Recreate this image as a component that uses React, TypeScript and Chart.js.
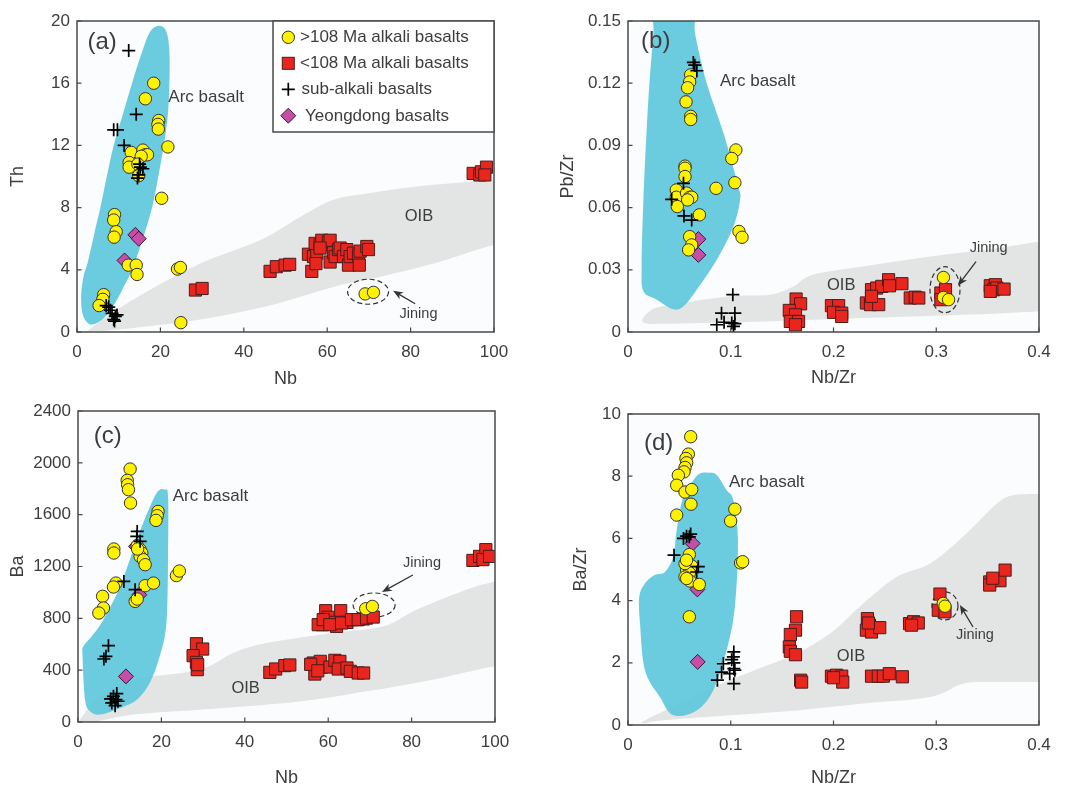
import React, { useEffect, useRef } from 'react';
import { Chart, registerables } from 'chart.js';

Chart.register(...registerables);

type P = [number, number];

// ---------------- DATA ----------------
const SERIES_LABELS = ['>108 Ma alkali basalts', '<108 Ma alkali basalts', 'sub-alkali basalts', 'Yeongdong basalts'];

// (a) Nb vs Th
const A_X_TICKS = [0, 20, 40, 60, 80, 100];
const A_Y_TICKS = [0, 4, 8, 12, 16, 20];
const A_YELLOW: P[] = [[18.4, 16.0], [16.4, 15.0], [19.6, 13.6], [19.4, 13.35], [19.5, 13.05], [21.8, 11.9], [13.0, 11.55], [15.8, 11.7], [16.4, 11.4], [16.9, 11.4], [15.4, 11.3], [12.5, 10.9], [12.5, 10.6], [14.6, 10.8], [14.8, 10.05], [20.3, 8.6], [9.0, 7.55], [8.8, 7.2], [9.4, 6.45], [8.9, 6.1], [12.3, 4.3], [14.2, 4.3], [14.4, 3.7], [24.1, 4.05], [24.8, 4.15], [6.4, 2.4], [6.2, 2.1], [5.3, 1.7], [24.9, 0.6], [69.1, 2.45], [71.1, 2.55]];
const A_RED: P[] = [[28.4, 2.7], [30.0, 2.8], [46.3, 3.9], [47.8, 4.2], [49.9, 4.3], [51.0, 4.35], [56.3, 3.9], [55.5, 5.0], [56.7, 4.85], [57.5, 5.07], [57.3, 4.4], [57.1, 5.7], [58.3, 5.6], [58.7, 5.9], [60.3, 5.8], [60.7, 5.9], [58.3, 5.4], [60.7, 4.5], [61.5, 5.1], [61.9, 4.85], [62.7, 5.3], [63.1, 5.4], [63.9, 4.85], [64.7, 5.3], [65.1, 4.3], [65.5, 4.85], [66.3, 5.07], [67.5, 4.95], [67.7, 4.3], [67.9, 5.2], [69.5, 5.5], [69.9, 5.3], [95.0, 10.2], [96.6, 10.1], [97.0, 10.3], [98.2, 10.6], [97.8, 10.1]];
const A_CROSS: P[] = [[12.4, 18.1], [8.8, 13.0], [9.7, 13.0], [14.2, 14.0], [11.3, 12.0], [15.2, 10.6], [15.8, 10.5], [14.8, 10.1], [14.5, 9.9], [15.0, 10.8], [7.6, 1.6], [8.4, 1.2], [9.2, 1.0], [8.8, 0.8], [9.6, 1.1], [7.0, 1.7], [8.0, 1.4], [9.0, 0.7]];
const A_DIAMOND: P[] = [[14.0, 6.25], [14.8, 6.0], [11.4, 4.6]];
const A_ARC: P[] = [[19.6, 19.7], [21.3, 19.4], [22.1, 18.3], [22.2, 16.5], [21.8, 14], [20.8, 12], [19.5, 10], [18, 8], [15.8, 6], [13.2, 4], [11, 2.8], [9, 1.8], [6.5, 0.9], [4, 0.5], [2.5, 0.6], [1.3, 1.2], [1.0, 2.4], [1.6, 3.6], [2.6, 4.5], [4.3, 6.5], [5.6, 8], [7.3, 10.2], [8.8, 12], [11, 14], [13.2, 16], [15.6, 18], [17.5, 19.3]];
const A_OIB: P[] = [[3.2, 0.2], [13.6, 2.1], [29.6, 4.4], [43.9, 5.9], [53.5, 7.4], [61.5, 8.5], [69.5, 8.9], [81.5, 9.35], [100, 9.8], [104, 9.9], [104, 5.5], [100, 5.6], [85.5, 4.4], [73.5, 3.6], [61.5, 2.9], [45.5, 1.65], [29.6, 0.8], [13.6, 0.26], [4, 0.05]];

// (b) Nb/Zr vs Pb/Zr
const B_X_TICKS = [0, 0.1, 0.2, 0.3, 0.4];
const B_Y_TICKS = [0, 0.03, 0.06, 0.09, 0.12, 0.15];
const B_YELLOW: P[] = [[0.061, 0.124], [0.060, 0.1206], [0.058, 0.1178], [0.0565, 0.111], [0.061, 0.104], [0.061, 0.1025], [0.105, 0.0878], [0.101, 0.0837], [0.104, 0.072], [0.0857, 0.0693], [0.0555, 0.080], [0.0555, 0.079], [0.0555, 0.075], [0.047, 0.0685], [0.047, 0.065], [0.057, 0.067], [0.060, 0.065], [0.062, 0.065], [0.058, 0.0637], [0.048, 0.0605], [0.0695, 0.0565], [0.108, 0.0485], [0.111, 0.0457], [0.060, 0.046], [0.062, 0.042], [0.059, 0.0396], [0.307, 0.0263], [0.307, 0.0167], [0.312, 0.0156]];
const B_RED: P[] = [[0.1636, 0.0159], [0.168, 0.0136], [0.157, 0.0104], [0.163, 0.0083], [0.158, 0.0051], [0.166, 0.0051], [0.163, 0.0035], [0.198, 0.0127], [0.205, 0.0127], [0.200, 0.0095], [0.208, 0.0091], [0.208, 0.0075], [0.237, 0.0204], [0.242, 0.0212], [0.247, 0.022], [0.2536, 0.0252], [0.2545, 0.0223], [0.232, 0.014], [0.236, 0.0132], [0.244, 0.0132], [0.237, 0.0172], [0.2666, 0.0233], [0.2747, 0.0164], [0.2795, 0.0168], [0.283, 0.0164], [0.3045, 0.0188], [0.3045, 0.0156], [0.309, 0.0204], [0.3526, 0.0223], [0.3575, 0.0228], [0.356, 0.0204], [0.359, 0.0212], [0.366, 0.0207], [0.3526, 0.0196]];
const B_CROSS: P[] = [[0.0636, 0.130], [0.065, 0.1287], [0.067, 0.126], [0.054, 0.0717], [0.0425, 0.064], [0.0545, 0.056], [0.062, 0.054], [0.102, 0.018], [0.091, 0.0091], [0.104, 0.0091], [0.0864, 0.0035], [0.0935, 0.0047], [0.101, 0.0043], [0.104, 0.004], [0.1026, 0.0027]];
const B_DIAMOND: P[] = [[0.0685, 0.0448], [0.0685, 0.0372]];
const B_ARC: P[] = [[0.0263, 0.158], [0.063, 0.158], [0.0653, 0.144], [0.0766, 0.12], [0.093, 0.0958], [0.1075, 0.070], [0.109, 0.0637], [0.1026, 0.0509], [0.0864, 0.0348], [0.0669, 0.0204], [0.054, 0.0124], [0.044, 0.011], [0.028, 0.0156], [0.015, 0.0196], [0.0133, 0.0316], [0.015, 0.0637], [0.0198, 0.112], [0.0247, 0.144]];
const B_OIB: P[] = [[0.014, 0.006], [0.02, 0.0095], [0.034, 0.0124], [0.099, 0.0172], [0.138, 0.018], [0.161, 0.022], [0.18, 0.0276], [0.229, 0.0316], [0.294, 0.0364], [0.359, 0.0404], [0.4, 0.0436], [0.41, 0.0445], [0.41, 0.0099], [0.4, 0.0099], [0.327, 0.0083], [0.229, 0.0067], [0.132, 0.0051], [0.034, 0.004], [0.017, 0.0042]];

// (c) Nb vs Ba
const C_X_TICKS = [0, 20, 40, 60, 80, 100];
const C_Y_TICKS = [0, 400, 800, 1200, 1600, 2000, 2400];
const C_YELLOW: P[] = [[12.5, 1952], [11.8, 1865], [11.9, 1831], [12.1, 1793], [12.6, 1690], [19.2, 1625], [19.0, 1592], [18.7, 1556], [8.6, 1335], [8.6, 1304], [14.2, 1360], [14.9, 1330], [15.3, 1304], [14.9, 1278], [15.7, 1252], [14.3, 1335], [16.1, 1214], [23.6, 1130], [24.3, 1165], [9.1, 1072], [8.5, 1042], [16.1, 1052], [18.1, 1072], [5.9, 970], [6.1, 880], [5.0, 841], [13.7, 931], [14.2, 949], [69.0, 874], [70.6, 892]];
const C_RED: P[] = [[59.4, 859], [63.0, 859], [60.0, 808], [58.6, 751], [61.2, 769], [62.0, 738], [64.0, 769], [64.5, 769], [66.8, 790], [68.4, 795], [57.6, 751], [58.8, 790], [60.4, 751], [63.2, 764], [65.6, 790], [67.2, 790], [69.2, 802], [70.8, 810], [46.0, 383], [47.4, 409], [49.6, 435], [50.8, 440], [56.4, 455], [56.8, 370], [58.4, 424], [58.1, 468], [60.4, 424], [61.6, 476], [62.8, 468], [62.4, 409], [64.5, 417], [65.3, 391], [67.2, 378], [68.5, 378], [55.8, 445], [57.5, 395], [28.4, 604], [29.9, 563], [27.6, 512], [28.4, 460], [28.6, 404], [28.7, 442], [94.7, 1247], [96.3, 1278], [97.8, 1330], [97.1, 1253], [98.7, 1278]];
const C_CROSS: P[] = [[14.2, 1471], [14.1, 1433], [14.9, 1394], [11.0, 1085], [13.7, 1021], [7.3, 589], [6.7, 507], [6.2, 486], [8.5, 198], [9.1, 172], [8.1, 147], [9.3, 219], [8.9, 126], [7.8, 178], [9.6, 160]];
const C_DIAMOND: P[] = [[11.5, 352], [14.7, 982], [13.9, 1355]];
const C_ARC: P[] = [[20.8, 1793], [21.6, 1741], [21.6, 1278], [21.2, 764], [19.6, 507], [17.2, 301], [14.1, 172], [10.1, 108], [5.3, 57], [2.9, 82], [1.7, 172], [1.1, 507], [1.3, 584], [3.3, 661], [6.1, 790], [10.1, 1047], [14.1, 1407], [17.3, 1664], [19.2, 1780]];
const C_OIB: P[] = [[0.5, 18], [5.3, 198], [13.3, 327], [29.2, 404], [37.2, 532], [45.2, 609], [61.2, 687], [73.2, 738], [81.2, 867], [93.1, 1021], [100, 1085], [104, 1110], [104, 420], [100, 430], [85.1, 327], [69.2, 237], [53.2, 159], [29.2, 95], [13.3, 57], [0.5, -20]];

// (d) Nb/Zr vs Ba/Zr
const D_X_TICKS = [0, 0.1, 0.2, 0.3, 0.4];
const D_Y_TICKS = [0, 2, 4, 6, 8, 10];
const D_YELLOW: P[] = [[0.061, 9.27], [0.0587, 8.71], [0.0564, 8.57], [0.0571, 8.43], [0.0555, 8.28], [0.0545, 8.14], [0.049, 8.03], [0.0474, 7.71], [0.0555, 7.49], [0.062, 7.57], [0.0613, 7.10], [0.0474, 6.75], [0.0999, 6.56], [0.104, 6.94], [0.1096, 5.21], [0.1116, 5.25], [0.0597, 5.48], [0.062, 5.11], [0.0571, 4.98], [0.0597, 4.89], [0.0555, 4.76], [0.0603, 4.63], [0.0571, 4.71], [0.0694, 4.52], [0.0597, 3.48], [0.0555, 5.19], [0.057, 5.30], [0.3068, 3.91], [0.3085, 3.82]];
const D_RED: P[] = [[0.164, 3.48], [0.163, 3.05], [0.158, 2.91], [0.157, 2.51], [0.158, 2.37], [0.163, 2.26], [0.168, 1.44], [0.169, 1.38], [0.198, 1.57], [0.203, 1.60], [0.208, 1.57], [0.209, 1.38], [0.200, 1.52], [0.233, 3.42], [0.235, 3.21], [0.232, 3.05], [0.237, 2.99], [0.245, 3.13], [0.234, 3.28], [0.274, 3.26], [0.278, 3.32], [0.2825, 3.28], [0.276, 3.21], [0.237, 1.57], [0.2436, 1.57], [0.2485, 1.57], [0.2543, 1.65], [0.267, 1.55], [0.3036, 4.21], [0.302, 3.69], [0.3085, 3.64], [0.352, 4.60], [0.357, 4.66], [0.362, 4.64], [0.367, 4.98], [0.352, 4.50], [0.355, 4.72]];
const D_CROSS: P[] = [[0.0597, 6.05], [0.054, 6.0], [0.057, 6.07], [0.061, 6.14], [0.0448, 5.46], [0.0684, 5.09], [0.0668, 4.92], [0.103, 2.35], [0.1025, 2.19], [0.103, 2.0], [0.103, 1.81], [0.1009, 2.1], [0.0928, 1.97], [0.0911, 1.70], [0.087, 1.44], [0.103, 1.33], [0.099, 1.65], [0.104, 1.76]];
const D_DIAMOND: P[] = [[0.0629, 5.84], [0.0675, 4.36], [0.0678, 2.03]];
const D_ARC: P[] = [[0.078, 8.11], [0.0863, 8.04], [0.096, 7.55], [0.1025, 7.23], [0.107, 5.94], [0.104, 3.80], [0.096, 2.40], [0.083, 1.12], [0.0668, 0.47], [0.0441, 0.31], [0.031, 0.90], [0.0165, 1.76], [0.0117, 3.26], [0.011, 4.12], [0.0165, 4.55], [0.026, 4.82], [0.036, 4.92], [0.0441, 5.41], [0.0474, 6.27], [0.0538, 7.34], [0.0636, 7.87], [0.070, 8.09]];
const D_OIB: P[] = [[0.0165, 0.15], [0.0506, 0.69], [0.083, 1.22], [0.1317, 1.87], [0.164, 2.30], [0.1966, 2.94], [0.229, 3.91], [0.2614, 4.76], [0.294, 5.19], [0.326, 6.05], [0.359, 7.12], [0.375, 7.39], [0.4, 7.43], [0.41, 7.45], [0.41, 1.38], [0.4, 1.38], [0.359, 1.38], [0.326, 1.33], [0.294, 0.90], [0.229, 0.69], [0.164, 0.47], [0.0993, 0.31], [0.034, 0.15], [0.0165, 0.06]];

// ---------------- STYLE ----------------
const FONT = '"Liberation Sans", Arial, Helvetica, sans-serif';
const TEXT = '#3d3d3d';
const FRAME = '#4a4a4a';
const PLOT_BG = '#fbfcfd';
const ARC_FILL = 'rgba(91,197,219,0.9)';
const OIB_FILL = '#e3e4e4';
const YELLOW = '#fff200';
const RED = '#e8261e';
const MAGENTA = '#c64ea6';

interface Note { x: number; y: number }
interface PanelCfg {
  key: string; left: number; top: number; w: number; h: number;
  yW: number; xH: number; padTop: number; padRight: number;
  xMin: number; xMax: number; yMin: number; yMax: number;
  xTicks: number[]; yTicks: number[]; xTitle: string; yTitle: string;
  xTitlePad: number; yTitlePad: number;
  yellow: P[]; red: P[]; cross: P[]; diamond: P[]; arc: P[]; oib: P[];
  tag: string; tagPos: Note; arcPos: Note; oibPos: Note; jinPos: Note;
  ell: { x: number; y: number; rx: number; ry: number };
  arrow: { x1: number; y1: number; x2: number; y2: number };
  legend: boolean;
}

const PANELS: PanelCfg[] = [
  {
    key: 'a', left: 0, top: 0, w: 534, h: 392, yW: 77, xH: 60, padTop: 21, padRight: 40,
    xMin: 0, xMax: 100, yMin: 0, yMax: 20, xTicks: A_X_TICKS, yTicks: A_Y_TICKS, xTitle: 'Nb', yTitle: 'Th',
    xTitlePad: 4, yTitlePad: 9,
    yellow: A_YELLOW, red: A_RED, cross: A_CROSS, diamond: A_DIAMOND, arc: A_ARC, oib: A_OIB,
    tag: '(a)', tagPos: { x: 2.5, y: 18.6 }, arcPos: { x: 21.9, y: 15.1 }, oibPos: { x: 82, y: 7.4 }, jinPos: { x: 81.9, y: 1.17 },
    ell: { x: 69.8, y: 2.59, rx: 20.5, ry: 12.5 }, arrow: { x1: 81.1, y1: 1.82, x2: 75.8, y2: 2.65 }, legend: true,
  },
  {
    key: 'b', left: 534, top: 0, w: 535, h: 392, yW: 94, xH: 60, padTop: 21, padRight: 30,
    xMin: 0, xMax: 0.4, yMin: 0, yMax: 0.15, xTicks: B_X_TICKS, yTicks: B_Y_TICKS, xTitle: 'Nb/Zr', yTitle: 'Pb/Zr',
    xTitlePad: 4.7, yTitlePad: 25,
    yellow: B_YELLOW, red: B_RED, cross: B_CROSS, diamond: B_DIAMOND, arc: B_ARC, oib: B_OIB,
    tag: '(b)', tagPos: { x: 0.0127, y: 0.140 }, arcPos: { x: 0.0895, y: 0.121 }, oibPos: { x: 0.2075, y: 0.0223 }, jinPos: { x: 0.351, y: 0.0406 },
    ell: { x: 0.3085, y: 0.0204, rx: 15, ry: 23 }, arrow: { x1: 0.3387, y1: 0.0339, x2: 0.321, y2: 0.0223 }, legend: false,
  },
  {
    key: 'c', left: 0, top: 392, w: 534, h: 395, yW: 78, xH: 65, padTop: 19, padRight: 39,
    xMin: 0, xMax: 100, yMin: 0, yMax: 2400, xTicks: C_X_TICKS, yTicks: C_Y_TICKS, xTitle: 'Nb', yTitle: 'Ba',
    xTitlePad: 0, yTitlePad: 9,
    yellow: C_YELLOW, red: C_RED, cross: C_CROSS, diamond: C_DIAMOND, arc: C_ARC, oib: C_OIB,
    tag: '(c)', tagPos: { x: 3.8, y: 2202 }, arcPos: { x: 22.7, y: 1744 }, oibPos: { x: 40.2, y: 260 }, jinPos: { x: 82.5, y: 1229 },
    ell: { x: 71, y: 903, rx: 21, ry: 12 }, arrow: { x1: 80.3, y1: 1134, x2: 72.9, y2: 1003 }, legend: false,
  },
  {
    key: 'd', left: 534, top: 392, w: 535, h: 395, yW: 94, xH: 62, padTop: 22, padRight: 30,
    xMin: 0, xMax: 0.4, yMin: 0, yMax: 10, xTicks: D_X_TICKS, yTicks: D_Y_TICKS, xTitle: 'Nb/Zr', yTitle: 'Ba/Zr',
    xTitlePad: 0, yTitlePad: 38,
    yellow: D_YELLOW, red: D_RED, cross: D_CROSS, diamond: D_DIAMOND, arc: D_ARC, oib: D_OIB,
    tag: '(d)', tagPos: { x: 0.0156, y: 9.06 }, arcPos: { x: 0.0983, y: 7.79 }, oibPos: { x: 0.217, y: 2.20 }, jinPos: { x: 0.3377, y: 2.89 },
    ell: { x: 0.3085, y: 3.83, rx: 13, ry: 14 }, arrow: { x1: 0.3358, y1: 3.15, x2: 0.323, y2: 3.86 }, legend: false,
  },
];

// ---------------- DRAW HELPERS ----------------
function smoothClosed(ctx: CanvasRenderingContext2D, pts: number[][]) {
  const n = pts.length;
  ctx.beginPath();
  ctx.moveTo(pts[0][0], pts[0][1]);
  const t = 1 / 6;
  for (let i = 0; i < n; i++) {
    const p0 = pts[(i - 1 + n) % n], p1 = pts[i], p2 = pts[(i + 1) % n], p3 = pts[(i + 2) % n];
    ctx.bezierCurveTo(
      p1[0] + (p2[0] - p0[0]) * t, p1[1] + (p2[1] - p0[1]) * t,
      p2[0] - (p3[0] - p1[0]) * t, p2[1] - (p3[1] - p1[1]) * t,
      p2[0], p2[1]);
  }
  ctx.closePath();
}

function legendMarker(ctx: CanvasRenderingContext2D, kind: number, x: number, y: number) {
  ctx.save();
  ctx.lineWidth = 1;
  if (kind === 0) {
    ctx.beginPath(); ctx.arc(x, y, 6.2, 0, Math.PI * 2);
    ctx.fillStyle = YELLOW; ctx.fill(); ctx.strokeStyle = '#333'; ctx.stroke();
  } else if (kind === 1) {
    ctx.fillStyle = RED; ctx.fillRect(x - 6, y - 6, 12, 12);
    ctx.strokeStyle = '#4a1c1c'; ctx.strokeRect(x - 6, y - 6, 12, 12);
  } else if (kind === 2) {
    ctx.strokeStyle = '#000'; ctx.lineWidth = 1.7;
    ctx.beginPath(); ctx.moveTo(x - 6.5, y); ctx.lineTo(x + 6.5, y); ctx.moveTo(x, y - 6.5); ctx.lineTo(x, y + 6.5); ctx.stroke();
  } else {
    ctx.beginPath(); ctx.moveTo(x - 7.5, y); ctx.lineTo(x, y - 7.5); ctx.lineTo(x + 7.5, y); ctx.lineTo(x, y + 7.5); ctx.closePath();
    ctx.fillStyle = MAGENTA; ctx.fill(); ctx.strokeStyle = '#3a1a30'; ctx.stroke();
  }
  ctx.restore();
}

function makePlugin(cfg: PanelCfg) {
  return {
    id: 'geo_' + cfg.key,
    beforeDatasetsDraw(chart: any) {
      const { ctx, chartArea: ca } = chart;
      const sx = chart.scales.x, sy = chart.scales.y;
      const toPx = (pts: P[]) => pts.map(([a, b]) => [sx.getPixelForValue(a), sy.getPixelForValue(b)]);
      ctx.save();
      ctx.fillStyle = PLOT_BG;
      ctx.fillRect(ca.left, ca.top, ca.right - ca.left, ca.bottom - ca.top);
      ctx.beginPath(); ctx.rect(ca.left, ca.top, ca.right - ca.left, ca.bottom - ca.top); ctx.clip();
      smoothClosed(ctx, toPx(cfg.oib)); ctx.fillStyle = OIB_FILL; ctx.fill();
      smoothClosed(ctx, toPx(cfg.arc)); ctx.fillStyle = ARC_FILL; ctx.fill();
      // dashed ellipse around Jining
      ctx.beginPath();
      ctx.ellipse(sx.getPixelForValue(cfg.ell.x), sy.getPixelForValue(cfg.ell.y), cfg.ell.rx, cfg.ell.ry, 0, 0, Math.PI * 2);
      ctx.setLineDash([5, 3]); ctx.lineWidth = 1.2; ctx.strokeStyle = '#333'; ctx.stroke();
      ctx.setLineDash([]);
      ctx.restore();
    },
    afterDatasetsDraw(chart: any) {
      const { ctx, chartArea: ca } = chart;
      const sx = chart.scales.x, sy = chart.scales.y;
      ctx.save();
      // frame
      ctx.strokeStyle = FRAME; ctx.lineWidth = 1.5;
      ctx.strokeRect(ca.left, ca.top, ca.right - ca.left, ca.bottom - ca.top);
      // inward ticks
      ctx.lineWidth = 1.2;
      ctx.beginPath();
      cfg.xTicks.forEach(v => { const p = sx.getPixelForValue(v); ctx.moveTo(p, ca.bottom); ctx.lineTo(p, ca.bottom - 4.5); });
      cfg.yTicks.forEach(v => { const p = sy.getPixelForValue(v); ctx.moveTo(ca.left, p); ctx.lineTo(ca.left + 4.5, p); });
      ctx.stroke();
      // texts
      ctx.fillStyle = TEXT; ctx.textBaseline = 'middle';
      ctx.font = `24px ${FONT}`; ctx.textAlign = 'left';
      ctx.fillText(cfg.tag, sx.getPixelForValue(cfg.tagPos.x), sy.getPixelForValue(cfg.tagPos.y));
      ctx.font = `17px ${FONT}`;
      ctx.fillText('Arc basalt', sx.getPixelForValue(cfg.arcPos.x), sy.getPixelForValue(cfg.arcPos.y));
      ctx.textAlign = 'center'; ctx.font = `16.5px ${FONT}`;
      ctx.fillText('OIB', sx.getPixelForValue(cfg.oibPos.x), sy.getPixelForValue(cfg.oibPos.y));
      ctx.font = `14.5px ${FONT}`;
      ctx.fillText('Jining', sx.getPixelForValue(cfg.jinPos.x), sy.getPixelForValue(cfg.jinPos.y));
      // arrow
      const x1 = sx.getPixelForValue(cfg.arrow.x1), y1 = sy.getPixelForValue(cfg.arrow.y1);
      const x2 = sx.getPixelForValue(cfg.arrow.x2), y2 = sy.getPixelForValue(cfg.arrow.y2);
      const ang = Math.atan2(y2 - y1, x2 - x1);
      ctx.strokeStyle = '#333'; ctx.fillStyle = '#333'; ctx.lineWidth = 1.3;
      ctx.beginPath(); ctx.moveTo(x1, y1); ctx.lineTo(x2 - 6 * Math.cos(ang), y2 - 6 * Math.sin(ang)); ctx.stroke();
      ctx.beginPath();
      ctx.moveTo(x2, y2);
      ctx.lineTo(x2 - 10 * Math.cos(ang) + 4 * Math.sin(ang), y2 - 10 * Math.sin(ang) - 4 * Math.cos(ang));
      ctx.lineTo(x2 - 7 * Math.cos(ang), y2 - 7 * Math.sin(ang));
      ctx.lineTo(x2 - 10 * Math.cos(ang) - 4 * Math.sin(ang), y2 - 10 * Math.sin(ang) + 4 * Math.cos(ang));
      ctx.closePath(); ctx.fill();
      // legend
      if (cfg.legend) {
        const lw = 221, lh = 111;
        const lx = ca.right - lw, ly = ca.top;
        ctx.fillStyle = '#ffffff'; ctx.fillRect(lx, ly, lw, lh);
        ctx.strokeStyle = FRAME; ctx.lineWidth = 1.5; ctx.strokeRect(lx, ly, lw, lh);
        const rows = [16.3, 42.3, 68.3, 94.7];
        const textX = [27, 27, 28.5, 32];
        ctx.font = `17px ${FONT}`; ctx.textAlign = 'left'; ctx.textBaseline = 'middle';
        SERIES_LABELS.forEach((lab, i) => {
          legendMarker(ctx, i, lx + 15.3, ly + rows[i]);
          ctx.fillStyle = TEXT;
          ctx.fillText(lab, lx + textX[i], ly + rows[i] + 0.5);
        });
      }
      ctx.restore();
    },
  };
}

function toXY(arr: P[]) { return arr.map(([x, y]) => ({ x, y })); }

function Panel({ cfg }: { cfg: PanelCfg }) {
  const ref = useRef<HTMLCanvasElement>(null);
  useEffect(() => {
    const tickFont = { family: FONT, size: 17, lineHeight: 1.2 };
    const titleFont = { family: FONT, size: 18, lineHeight: 1 };
    const chart = new Chart(ref.current!, {
      type: 'scatter',
      data: {
        datasets: [
          { label: SERIES_LABELS[0], data: toXY(cfg.yellow), pointStyle: 'circle', pointRadius: 6.2, pointBackgroundColor: YELLOW, backgroundColor: YELLOW, pointBorderColor: '#333', borderColor: '#333', pointBorderWidth: 1, order: 1 } as any,
          { label: SERIES_LABELS[1], data: toXY(cfg.red), pointStyle: 'rect', pointRadius: 8.6, pointBackgroundColor: RED, backgroundColor: RED, pointBorderColor: '#4a1c1c', borderColor: '#4a1c1c', pointBorderWidth: 1, order: 2 },
          { label: SERIES_LABELS[2], data: toXY(cfg.cross), pointStyle: 'cross', pointRadius: 6.5, pointBorderColor: '#000', borderColor: '#000', pointBorderWidth: 1.7, order: 0 },
          { label: SERIES_LABELS[3], data: toXY(cfg.diamond), pointStyle: 'rectRot', pointRadius: 7.5, pointBackgroundColor: MAGENTA, backgroundColor: MAGENTA, pointBorderColor: '#3a1a30', borderColor: '#3a1a30', pointBorderWidth: 1, order: 3 },
        ],
      },
      options: {
        responsive: false,
        animation: false,
        devicePixelRatio: 1,
        events: [],
        layout: { padding: { top: cfg.padTop, right: cfg.padRight, left: 0, bottom: 0 } },
        plugins: { legend: { display: false }, tooltip: { enabled: false } },
        scales: {
          x: {
            type: 'linear', min: cfg.xMin, max: cfg.xMax,
            afterBuildTicks: (s: any) => { s.ticks = cfg.xTicks.map(v => ({ value: v })); },
            afterFit: (s: any) => { s.height = cfg.xH; },
            grid: { display: false, drawTicks: false },
            border: { display: false },
            ticks: { font: tickFont, color: TEXT, padding: 10, autoSkip: false, maxRotation: 0, callback: (v: any) => String(v) },
            title: { display: true, text: cfg.xTitle, font: titleFont, color: TEXT, padding: { top: 0, bottom: cfg.xTitlePad } },
          },
          y: {
            type: 'linear', min: cfg.yMin, max: cfg.yMax,
            afterBuildTicks: (s: any) => { s.ticks = cfg.yTicks.map(v => ({ value: v })); },
            afterFit: (s: any) => { s.width = cfg.yW; },
            grid: { display: false, drawTicks: false },
            border: { display: false },
            ticks: { font: tickFont, color: TEXT, padding: 7, autoSkip: false, callback: (v: any) => String(v) },
            title: { display: true, text: cfg.yTitle, font: titleFont, color: TEXT, padding: { top: cfg.yTitlePad, bottom: 0 } },
          },
        },
      } as any,
      plugins: [makePlugin(cfg)],
    });
    return () => chart.destroy();
  }, []);
  return (
    <div style={{ position: 'absolute', left: cfg.left, top: cfg.top, width: cfg.w, height: cfg.h }}>
      <canvas ref={ref} width={cfg.w} height={cfg.h} style={{ width: cfg.w, height: cfg.h, display: 'block' }} />
    </div>
  );
}

export default function App() {
  return (
    <div style={{ position: 'fixed', left: 0, top: 0, width: 1069, height: 787, background: '#ffffff', overflow: 'hidden' }}>
      {PANELS.map(p => <Panel key={p.key} cfg={p} />)}
    </div>
  );
}
